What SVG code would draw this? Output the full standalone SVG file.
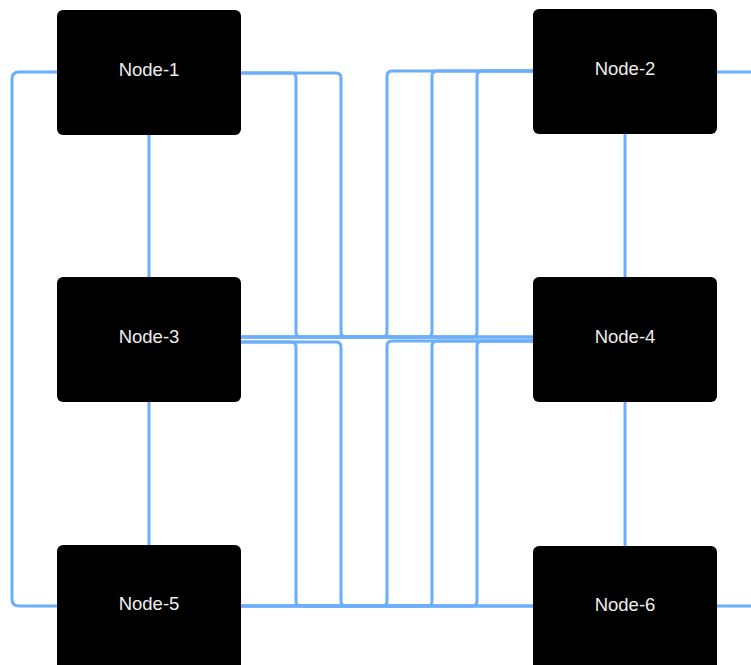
<svg xmlns="http://www.w3.org/2000/svg" width="751" height="665" viewBox="0 0 751 665">
<style>
.e{fill:none;stroke:#6aaefc;stroke-width:3;stroke-linejoin:round}
.n{fill:#000}
.t{fill:#eee;font-family:"Liberation Sans",Arial,sans-serif;font-size:18.5px;text-anchor:middle;dominant-baseline:central}
</style>
<rect width="751" height="665" fill="#fff"/>
<g id="connectors">
<path class="e" d="M149,135 V277"/>
<path class="e" d="M149,402 V545"/>
<path class="e" d="M625,134 V277"/>
<path class="e" d="M625,402 V546"/>
<path class="e" d="M57,72 H19 Q12,72 12,79 V599 Q12,606 19,606 H57"/>
<path class="e" d="M716,72 H751"/>
<path class="e" d="M716,606 H751"/>
<path class="e" d="M241,73 H291 Q296,73 296,78 V332 Q296,337 301,337 H533"/>
<path class="e" d="M241,73 H336 Q341,73 341,78 V332 Q341,337 346,337 H533"/>
<path class="e" d="M533,71 H392 Q387,71 387,76 V332 Q387,337 382,337 H241"/>
<path class="e" d="M533,71 H437 Q432,71 432,76 V332 Q432,337 427,337 H241"/>
<path class="e" d="M533,71 H482 Q477,71 477,76 V332 Q477,337 472,337 H241"/>
<path class="e" d="M241,342 H291 Q296,342 296,347 V601 Q296,606 301,606 H533"/>
<path class="e" d="M241,342 H336 Q341,342 341,347 V601 Q341,606 346,606 H533"/>
<path class="e" d="M533,341 H392 Q387,341 387,346 V601 Q387,606 382,606 H241"/>
<path class="e" d="M533,341 H437 Q432,341 432,346 V601 Q432,606 427,606 H241"/>
<path class="e" d="M533,341 H482 Q477,341 477,346 V601 Q477,606 472,606 H241"/>
</g>
<g id="node-1"><rect class="n" x="57" y="10" width="184" height="125" rx="6"/><text class="t" x="149" y="69">Node-1</text></g>
<g id="node-2"><rect class="n" x="533" y="9" width="184" height="125" rx="6"/><text class="t" x="625" y="68">Node-2</text></g>
<g id="node-3"><rect class="n" x="57" y="277" width="184" height="125" rx="6"/><text class="t" x="149" y="336">Node-3</text></g>
<g id="node-4"><rect class="n" x="533" y="277" width="184" height="125" rx="6"/><text class="t" x="625" y="336">Node-4</text></g>
<g id="node-5"><rect class="n" x="57" y="545" width="184" height="125" rx="6"/><text class="t" x="149" y="603">Node-5</text></g>
<g id="node-6"><rect class="n" x="533" y="546" width="184" height="125" rx="6"/><text class="t" x="625" y="604">Node-6</text></g>
</svg>
